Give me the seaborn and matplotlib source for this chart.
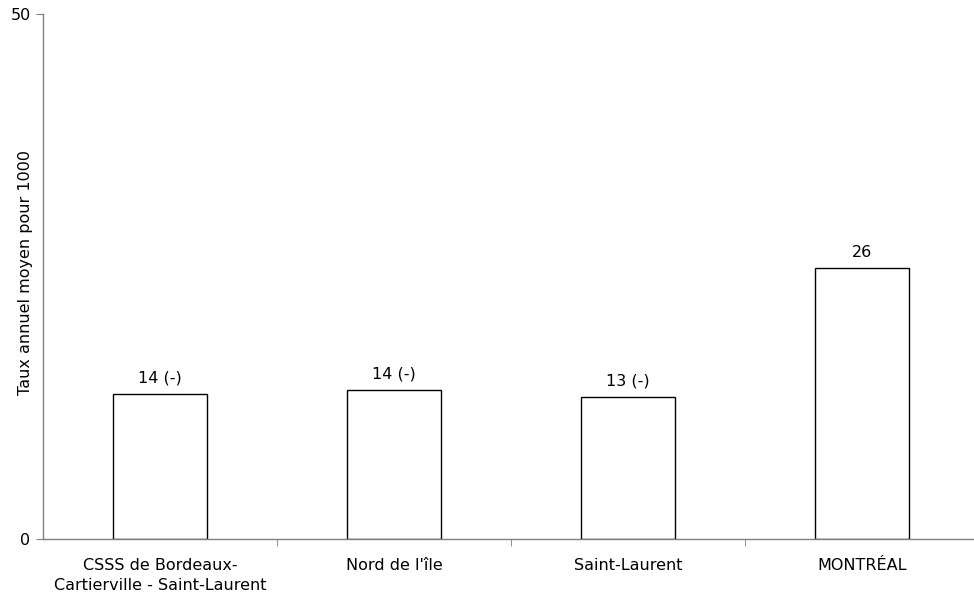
import pandas as pd
import matplotlib.pyplot as plt
import seaborn as sns

categories = ["CSSS de Bordeaux-\nCartierville - Saint-Laurent", "Nord de l'île", "Saint-Laurent", "MONTRÉAL"]
values = [13.8, 14.2, 13.5, 25.8]
bar_labels = ["14 (-)", "14 (-)", "13 (-)", "26"]

df = pd.DataFrame({'zone': categories, 'taux': values})

sns.set_style('white')
plt.rcParams['font.family'] = ['DejaVu Sans']
plt.rcParams['text.color'] = 'black'
plt.rcParams['xtick.labelcolor'] = 'black'
plt.rcParams['ytick.labelcolor'] = 'black'

fs = 11.5

fig = plt.figure(figsize=(9.74, 5.99), dpi=100)
ax = fig.add_axes([43/974, 60/599, 936/974, 525/599])

sns.barplot(data=df, x='zone', y='taux', color='white', edgecolor='black',
            linewidth=1, width=0.4, ax=ax)
ax.bar_label(ax.containers[0], labels=bar_labels, padding=6, fontsize=fs, color='black')

ax.set_xlim(-0.5, 3.5)
ax.set_ylim(0, 50)
ax.set_yticks([0, 50])
ax.set_xticks([0.5, 1.5, 2.5], minor=True)
ax.tick_params(axis='x', which='major', length=0, pad=14, labelsize=fs)
ax.tick_params(axis='x', which='minor', length=5, color='#808080', direction='out', bottom=True)
ax.tick_params(axis='y', length=5, color='#808080', direction='out', left=True, labelsize=fs, pad=4)
for t in ax.get_xticklabels():
    t.set_linespacing(1.4)
ax.set_xlabel('')
ax.set_ylabel('Taux annuel moyen pour 1000', fontsize=fs, color='black')
ax.yaxis.set_label_coords(-10/936, 0.508)

sns.despine(ax=ax)
for s in ['left', 'bottom']:
    ax.spines[s].set_color('#808080')
    ax.spines[s].set_linewidth(1)

fig.savefig('out.png', dpi=100)
